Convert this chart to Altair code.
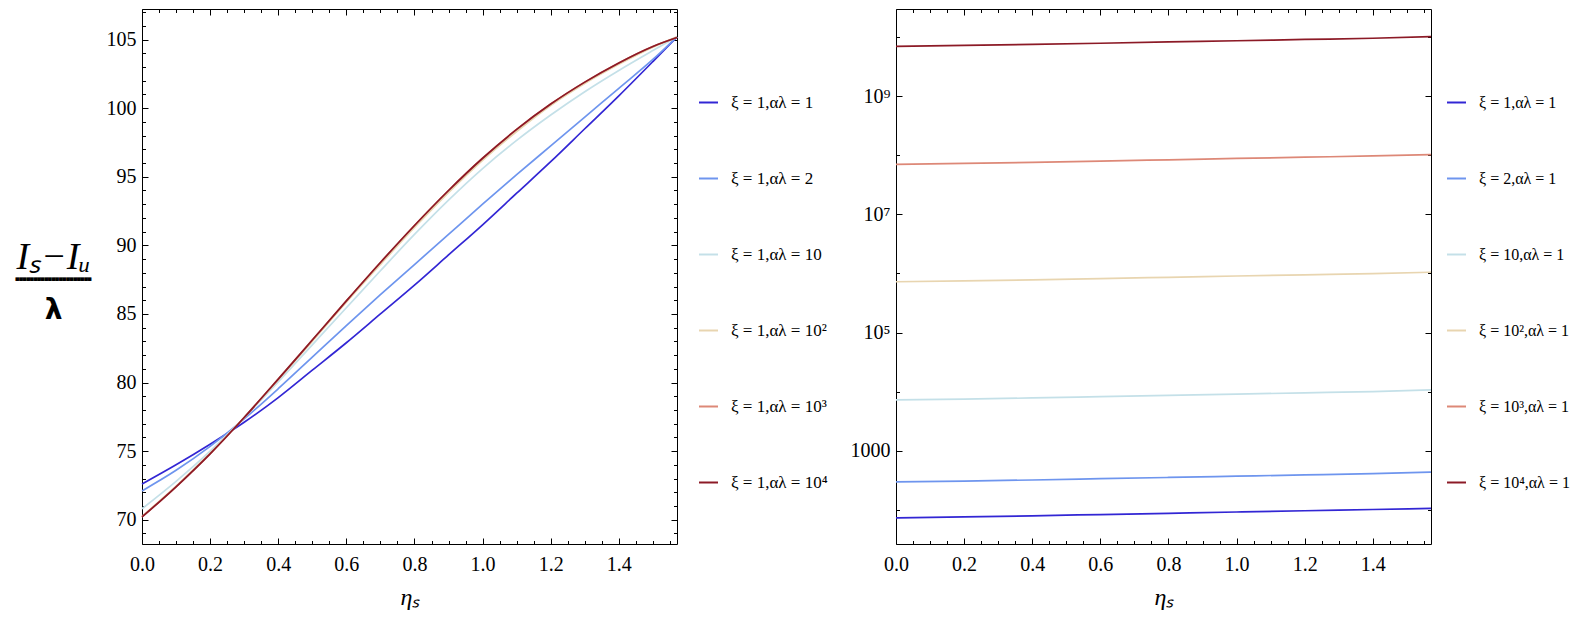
import altair as alt
import pandas as pd

# ---------------- data ----------------
eta_left = [0.0, 0.1, 0.2, 0.3, 0.4, 0.5, 0.6, 0.7, 0.8, 0.9, 1.0, 1.1, 1.2, 1.3, 1.4, 1.5, 1.5708]

left_labels = ["ξ = 1,αλ = 1", "ξ = 1,αλ = 2", "ξ = 1,αλ = 10",
               "ξ = 1,αλ = 10²", "ξ = 1,αλ = 10³", "ξ = 1,αλ = 10⁴"]
left_al1 = [72.6, 74.0, 75.5, 77.1, 78.9, 80.9, 82.9, 85.0, 87.1, 89.3, 91.5, 93.8, 96.1, 98.5, 100.9, 103.4, 105.2]
left_al2 = [72.1, 73.6, 75.35, 77.35, 79.55, 81.85, 84.15, 86.4, 88.6, 90.8, 93.0, 95.15, 97.25, 99.35, 101.45, 103.55, 105.2]
left_al10 = [70.8, 72.8, 75.0, 77.45, 80.05, 82.75, 85.45, 88.15, 90.8, 93.3, 95.6, 97.65, 99.5, 101.2, 102.75, 104.2, 105.2]
left_al1e2 = [70.25, 72.45, 74.85, 77.45, 80.2, 83.0, 85.85, 88.6, 91.3, 93.85, 96.2, 98.3, 100.2, 101.8, 103.2, 104.45, 105.2]
left_al1e3 = [70.2, 72.4, 74.8, 77.45, 80.25, 83.1, 85.95, 88.75, 91.45, 94.0, 96.35, 98.45, 100.3, 101.9, 103.3, 104.5, 105.15]
left_al1e4 = [70.2, 72.4, 74.8, 77.45, 80.25, 83.1, 85.95, 88.75, 91.45, 94.0, 96.35, 98.45, 100.3, 101.9, 103.3, 104.5, 105.15]

eta_right = [0.0, 0.2, 0.4, 0.6, 0.8, 1.0, 1.2, 1.4, 1.5708]
right_labels = ["ξ = 1,αλ = 1", "ξ = 2,αλ = 1", "ξ = 10,αλ = 1",
                "ξ = 10²,αλ = 1", "ξ = 10³,αλ = 1", "ξ = 10⁴,αλ = 1"]
right_xi1 = [72.6, 75.5, 78.9, 82.9, 87.1, 91.5, 96.1, 100.9, 105.2]
right_xi2 = [296, 306, 319, 335, 352, 370, 389, 410, 434]
right_xi10 = [7240, 7480, 7800, 8200, 8620, 9060, 9520, 10000, 10700]
right_xi1e2 = [724000, 748000, 780000, 820000, 860000, 905000, 950000, 995000, 1050000]
right_xi1e3 = [7.05e7, 7.3e7, 7.6e7, 8.0e7, 8.4e7, 8.85e7, 9.3e7, 9.75e7, 1.03e8]
right_xi1e4 = [7.0e9, 7.25e9, 7.55e9, 7.9e9, 8.3e9, 8.7e9, 9.15e9, 9.6e9, 1.02e10]

colors = ["#3226d4", "#6e95ee", "#c4e0e8", "#e8d5b0", "#dd8877", "#8c1a26"]

# tick values
x_major = [0.0, 0.2, 0.4, 0.6, 0.8, 1.0, 1.2, 1.4]
x_minor = [0.05, 0.1, 0.15, 0.25, 0.3, 0.35, 0.45, 0.5, 0.55, 0.65, 0.7, 0.75,
           0.85, 0.9, 0.95, 1.05, 1.1, 1.15, 1.25, 1.3, 1.35, 1.45, 1.5, 1.55]
yl_major = [70, 75, 80, 85, 90, 95, 100, 105]
yl_minor = [69, 71, 72, 73, 74, 76, 77, 78, 79, 81, 82, 83, 84, 86, 87, 88, 89,
            91, 92, 93, 94, 96, 97, 98, 99, 101, 102, 103, 104, 106, 107]
yr_major = [1000, 100000, 10000000, 1000000000]
yr_minor = [100, 10000, 1000000, 100000000, 10000000000]

W = 535
H = 535
SERIF = "Liberation Serif, Times New Roman, serif"


def long_frame(eta, labels, series):
    rows = []
    for lab, vals in zip(labels, series):
        for e, v in zip(eta, vals):
            rows.append({"eta": e, "value": v, "series": lab})
    return pd.DataFrame(rows)


df_left = long_frame(eta_left, left_labels,
                     [left_al1, left_al2, left_al10, left_al1e2, left_al1e3, left_al1e4])
df_right = long_frame(eta_right, right_labels,
                      [right_xi1, right_xi2, right_xi10, right_xi1e2, right_xi1e3, right_xi1e4])


def panel(df, labels, y_scale, y_major, y_minor, y_label_kw, y_title_kw, extra_titles,
          legend_x, legend_size):
    x_scale = alt.Scale(domain=[0, 1.5708], nice=False, zero=False)
    base = alt.Chart(df)

    main = base.mark_line(strokeWidth=1.7, interpolate="monotone").encode(
        x=alt.X("eta:Q", scale=x_scale,
                axis=alt.Axis(orient="bottom", values=x_major, format=".1f", ticks=False,
                              tickSize=0, domain=False, grid=False, labelPadding=10,
                              labelFlush=False, labelFontSize=20, labelFont=SERIF,
                              title="ηₛ", titleFontSize=24, titleFontStyle="italic",
                              titleFontWeight="normal", titleFont=SERIF,
                              titleY=60, titleBaseline="alphabetic")),
        y=alt.Y("value:Q", scale=y_scale,
                axis=alt.Axis(orient="left", values=y_major, ticks=False, tickSize=0,
                              domain=False, grid=False, labelPadding=6, labelFontSize=20,
                              labelFlush=False, labelFont=SERIF, **y_label_kw, **y_title_kw)),
        color=alt.Color("series:N", sort=labels,
                        scale=alt.Scale(domain=labels, range=colors),
                        legend=alt.Legend(title=None, orient="none", legendX=legend_x,
                                          legendY=83, symbolType="stroke", symbolSize=361,
                                          symbolStrokeWidth=2, labelFontSize=legend_size,
                                          labelFont=SERIF, labelColor="black",
                                          labelOffset=12, rowPadding=57, padding=0,
                                          labelLimit=300)),
    )

    def ticks(ox, oy, xv, yv, size, extra_y=None):
        yaxis_kw = dict(orient=oy, offset=-W, values=yv, labels=False, domain=False,
                        grid=False, tickSize=size, tickColor="black", title=None)
        if extra_y:
            yaxis_kw.update(extra_y)
        return base.mark_point(opacity=0).encode(
            x=alt.X("eta:Q", scale=x_scale,
                    axis=alt.Axis(orient=ox, offset=-H, values=xv, labels=False,
                                  domain=False, grid=False, tickSize=size,
                                  tickColor="black", title=None)),
            y=alt.Y("value:Q", scale=y_scale, axis=alt.Axis(**yaxis_kw)),
        )

    t1 = ticks("top", "right", x_major, y_major, 6, extra_titles[0])
    t2 = ticks("top", "right", x_minor, y_minor, 3.5, extra_titles[1])
    t3 = ticks("bottom", "left", x_major, y_major, 6)
    t4 = ticks("bottom", "left", x_minor, y_minor, 3.5)

    return alt.layer(main, t1, t2, t3, t4).resolve_axis(
        x="independent", y="independent").properties(width=W, height=H)


lambda_title = dict(title="λ", titleAngle=0, titleAlign="center", titleBaseline="alphabetic",
                    titleX=-89, titleY=309, titleFontSize=28, titleFontWeight="bold",
                    titleFont="DejaVu Sans")
bar_title = dict(title="▀" * 21, titleAngle=0, titleAlign="center", titleBaseline="alphabetic",
                 titleX=-89, titleY=273.6, titleFontSize=6, titleFontWeight="normal",
                 titleFont="DejaVu Sans Mono")

left = panel(
    df_left, left_labels,
    alt.Scale(domain=[68.23, 107.23], nice=False, zero=False),
    yl_major, yl_minor,
    dict(format="d"),
    dict(title="Iₛ−Iᵤ", titleAngle=0, titleAlign="center",
         titleBaseline="alphabetic", titleX=-89, titleY=259, titleFontSize=38,
         titleFontStyle="italic", titleFontWeight="normal", titleFont=SERIF),
    (lambda_title, bar_title),
    556, 17,
)

right = panel(
    df_right, right_labels,
    alt.Scale(type="log", domain=[26.3, 3.0e10], nice=False, zero=False),
    yr_major, yr_minor,
    dict(labelExpr="datum.value == 1000 ? '1000' : datum.value == 100000 ? '10⁵' : "
                   "datum.value == 10000000 ? '10⁷' : datum.value == 1000000000 ? '10⁹' : ''"),
    dict(title=None),
    (None, None),
    550, 16,
)

chart = alt.hconcat(left, right, spacing=20).resolve_scale(color="independent").properties(
    padding={"left": 6, "top": 0, "right": 2, "bottom": 0}
).configure(font=SERIF).configure_view(stroke="black", strokeWidth=1).configure_axis(
    labelColor="black", titleColor="black", tickColor="black"
)

chart.save("out.html", embed_options={"renderer": "svg", "actions": False})
